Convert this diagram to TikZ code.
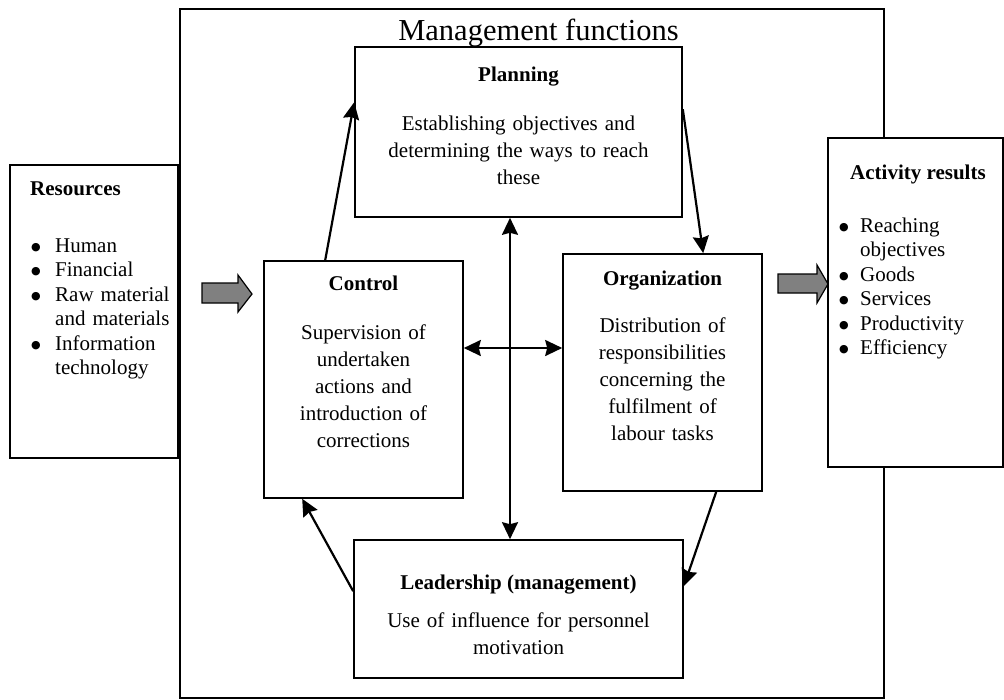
\documentclass[tikz,border=0pt]{standalone}
\usepackage{fontspec}
\setmainfont{Liberation Serif}
\newfontfamily\dvfont{DejaVu Sans}
\newcommand\mybul{\raisebox{1.6pt}{\dvfont\fontsize{11}{11}\selectfont ●}}
\usetikzlibrary{arrows.meta,calc}
\begin{document}
\begin{tikzpicture}[x=1pt,y=-1pt,
  frame/.style={draw, line width=1.3pt, inner sep=0pt},
  box/.style={draw, line width=1.6pt, fill=white, inner sep=0pt},
  ttl/.style={font=\fontsize{21}{27}\selectfont\bfseries, inner sep=0pt, anchor=base},
  body/.style={font=\fontsize{21}{27}\selectfont, inner sep=0pt, anchor=base, align=center},
  lst/.style={font=\fontsize{21}{24.5}\selectfont, inner sep=0pt, anchor=base west, align=left},
  tip/.tip={Stealth[length=17pt,width=16pt,inset=2pt]},
  arr/.style={line width=2.2pt, -tip},
  darr/.style={line width=2.2pt, tip-tip},
  blk/.style={draw, line width=1.2pt, fill=black!50, line join=miter}
]
\useasboundingbox (0,0) rectangle (1004,699);
% outer frame
\node[frame, minimum width=704pt, minimum height=689pt] (frm) at (532,353.5) {};
\node[font=\fontsize{30.5}{36}\selectfont, inner sep=0pt, anchor=base] (mtitle) at (538.5,40) {Management functions};

% boxes
\node[box, minimum width=327pt, minimum height=170pt] (plan) at (518.5,132) {};
\node[box, minimum width=168pt, minimum height=293pt] (res) at (94,311.5) {};
\node[box, minimum width=199pt, minimum height=237pt] (ctrl) at (363.5,379.5) {};
\node[box, minimum width=199pt, minimum height=237pt] (org) at (662.5,372.5) {};
\node[box, minimum width=329pt, minimum height=138pt] (lead) at (518.5,609) {};
\node[box, minimum width=175pt, minimum height=329pt] (act) at (915.5,302.5) {};

% texts
\node[ttl] (plant) at (518.5,81) {Planning};
\node[body, text width=310pt] (planb) at (518.5,130) {Establishing objectives and\\determining the ways to reach\\these};

\node[ttl, anchor=base west] (rest) at (30,195) {Resources};
\node[lst, text width=150pt] (resb) at (31,252) {\makebox[24pt][l]{\mybul}Human\\\makebox[24pt][l]{\mybul}Financial\\\makebox[24pt][l]{\mybul}Raw material\\\hspace*{24pt}and materials\\\makebox[24pt][l]{\mybul}Information\\\hspace*{24pt}technology};

\node[ttl] (ctrlt) at (363.5,290) {Control};
\node[body, text width=190pt] (ctrlb) at (363.5,339) {Supervision of\\undertaken\\actions and\\introduction of\\corrections};

\node[ttl] (orgt) at (662.5,285) {Organization};
\node[body, text width=190pt] (orgb) at (662.5,332) {Distribution of\\responsibilities\\concerning the\\fulfilment of\\labour tasks};

\node[ttl] (leadt) at (518.5,589) {Leadership (management)};
\node[body, text width=320pt] (leadb) at (518.5,627) {Use of influence for personnel\\motivation};

\node[ttl, anchor=base west] (actt) at (850,179) {Activity results};
\node[lst, text width=160pt] (actb) at (839,232) {\makebox[21pt][l]{\mybul}Reaching\\\hspace*{21pt}objectives\\\makebox[21pt][l]{\mybul}Goods\\\makebox[21pt][l]{\mybul}Services\\\makebox[21pt][l]{\mybul}Productivity\\\makebox[21pt][l]{\mybul}Efficiency};

% block arrows
\draw[blk] (202,283) -- (238,283) -- (238,275) -- (252,294) -- (238,312) -- (238,303) -- (202,303) -- cycle;
\draw[blk] (778,274) -- (817,274) -- (817,265) -- (828,284) -- (817,303) -- (817,293) -- (778,293) -- cycle;

% connectors
\draw[arr] ([xshift=62pt]ctrl.north west) -- ([yshift=-56pt]plan.north west);
\draw[arr] ([yshift=-63pt]plan.north east) -- ([xshift=141pt]org.north west);
\draw[arr] ([xshift=154pt]org.south west) -- ([yshift=-47pt]lead.north east);
\draw[arr] ([yshift=-52pt]lead.north west) -- ([xshift=39pt]ctrl.south west);
\draw[darr] ([xshift=-8.5pt]plan.south) -- ([xshift=-8.5pt]lead.north);
\coordinate (hy) at (0,348);
\draw[darr] (ctrl.east |- hy) -- (org.west |- hy);
\end{tikzpicture}
\end{document}
